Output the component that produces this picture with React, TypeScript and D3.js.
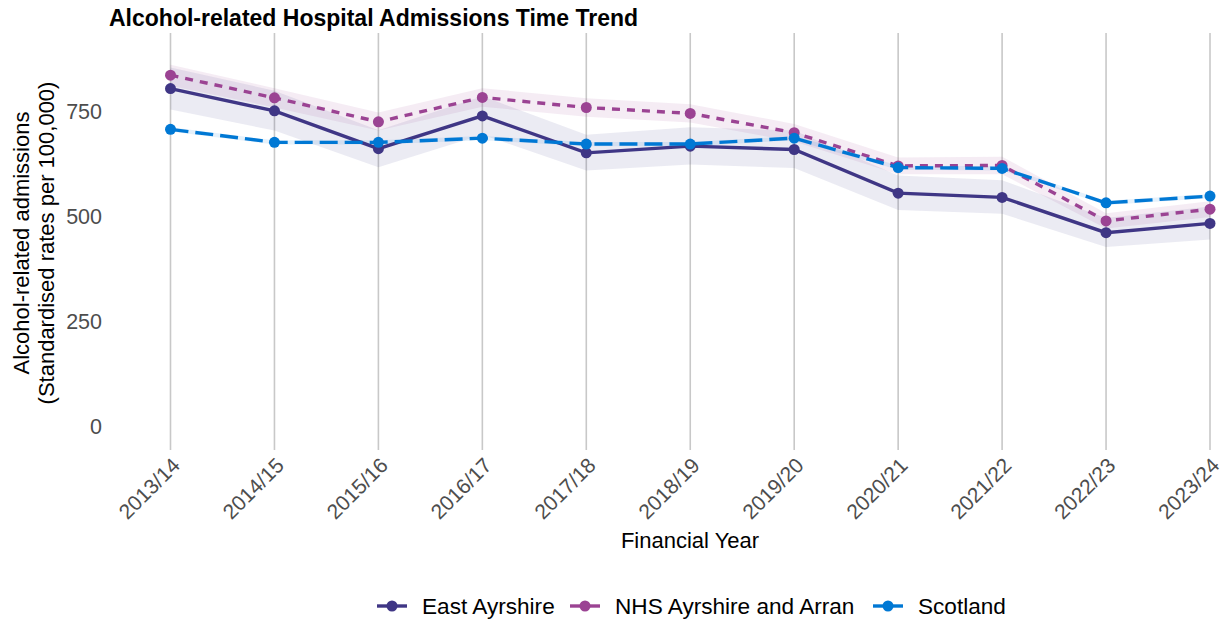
import React from "react";
import * as d3 from "d3";

const years = ["2013/14","2014/15","2015/16","2016/17","2017/18","2018/19","2019/20","2020/21","2021/22","2022/23","2023/24"];
const eastAyrshire = [805, 752, 662, 740, 652, 668, 660, 556, 546, 462, 484];
const eastAyrshireLower = [755, 705, 618, 695, 610, 624, 616, 516, 507, 428, 446];
const eastAyrshireUpper = [855, 800, 706, 787, 695, 713, 705, 598, 587, 497, 524];
const nhsAyrshire = [837, 783, 726, 784, 760, 746, 700, 621, 622, 490, 518];
const nhsAyrshireLower = [812, 760, 705, 762, 738, 724, 679, 601, 601, 472, 499];
const nhsAyrshireUpper = [862, 806, 748, 806, 782, 768, 721, 641, 643, 508, 537];
const scotland = [708, 677, 677, 687, 673, 673, 687, 617, 615, 533, 549];
const scotlandLower = [703, 672, 672, 682, 668, 668, 682, 612, 610, 528, 544];
const scotlandUpper = [713, 682, 682, 692, 678, 678, 692, 622, 620, 538, 554];
const yTicks = [0, 250, 500, 750];

const seriesNames = ["East Ayrshire", "NHS Ayrshire and Arran", "Scotland"];

const W = 1225, H = 621;
const panelTop = 33, panelBottom = 450;
const FONT = "'Liberation Sans', Arial, sans-serif";

export default function App() {
  const x = d3.scalePoint<string>().domain(years).range([170.5, 1210]);
  const y = d3.scaleLinear().domain([0, 750]).range([426.7, 111.7]);

  const series = [
    { name: seriesNames[0], values: eastAyrshire, lo: eastAyrshireLower, hi: eastAyrshireUpper, color: "#3F3685", dash: "none" },
    { name: seriesNames[1], values: nhsAyrshire, lo: nhsAyrshireLower, hi: nhsAyrshireUpper, color: "#9B4393", dash: "8 7" },
    { name: seriesNames[2], values: scotland, lo: scotlandLower, hi: scotlandUpper, color: "#0078D4", dash: "18 7" },
  ];

  const line = d3.line<number>().x((_, i) => x(years[i])!).y((d) => y(d));
  const area = (lo: number[], hi: number[]) =>
    d3.area<number>().x((_, i) => x(years[i])!).y0((_, i) => y(lo[i])).y1((_, i) => y(hi[i]))(lo.map((d) => d));

  const legendX = [377, 570, 873];

  return (
    <svg width={W} height={H} style={{ position: "absolute", left: 0, top: 0, background: "#fff" }} fontFamily={FONT}>
      <rect width={W} height={H} fill="#fff" />
      {years.map((yr) => (
        <line key={yr} x1={x(yr)} x2={x(yr)} y1={panelTop} y2={panelBottom} stroke="#C8C8C8" strokeWidth={1.6} />
      ))}
      {series.map((s) => (
        <path key={s.name + "band"} d={area(s.lo, s.hi) || ""} fill={s.color} fillOpacity={0.1} />
      ))}
      {series.map((s) => (
        <g key={s.name}>
          <path d={line(s.values) || ""} fill="none" stroke={s.color} strokeWidth={3.4} strokeDasharray={s.dash} />
          {s.values.map((v, i) => (
            <circle key={i} cx={x(years[i])} cy={y(v)} r={5.5} fill={s.color} />
          ))}
        </g>
      ))}
      {yTicks.map((t) => (
        <text key={t} x={102} y={y(t)} textAnchor="end" dominantBaseline="central" fontSize={21.5} fill="#4D4D4D">{t}</text>
      ))}
      {years.map((yr) => (
        <text key={yr} transform={`translate(${x(yr)},456) rotate(-45)`} textAnchor="end" dominantBaseline="hanging" fontSize={21} fill="#4D4D4D">{yr}</text>
      ))}
      <text transform="translate(21,243) rotate(-90)" textAnchor="middle" dominantBaseline="central" fontSize={22} fill="#000">Alcohol-related admissions</text>
      <text transform="translate(46,243) rotate(-90)" textAnchor="middle" dominantBaseline="central" fontSize={22} fill="#000">(Standardised rates per 100,000)</text>
      <text x={690} y={540} textAnchor="middle" dominantBaseline="central" fontSize={22} fill="#000">Financial Year</text>
      <text x={109} y={26} fontSize={23} fontWeight="bold" fill="#000">Alcohol-related Hospital Admissions Time Trend</text>
      {series.map((s, i) => (
        <g key={s.name + "leg"} transform={`translate(${legendX[i]},606)`}>
          <line x1={0} x2={30} y1={0} y2={0} stroke={s.color} strokeWidth={3.4} />
          <circle cx={15} cy={0} r={5.5} fill={s.color} />
          <text x={45} y={0} dominantBaseline="central" fontSize={22.6} fill="#000">{s.name}</text>
        </g>
      ))}
    </svg>
  );
}
